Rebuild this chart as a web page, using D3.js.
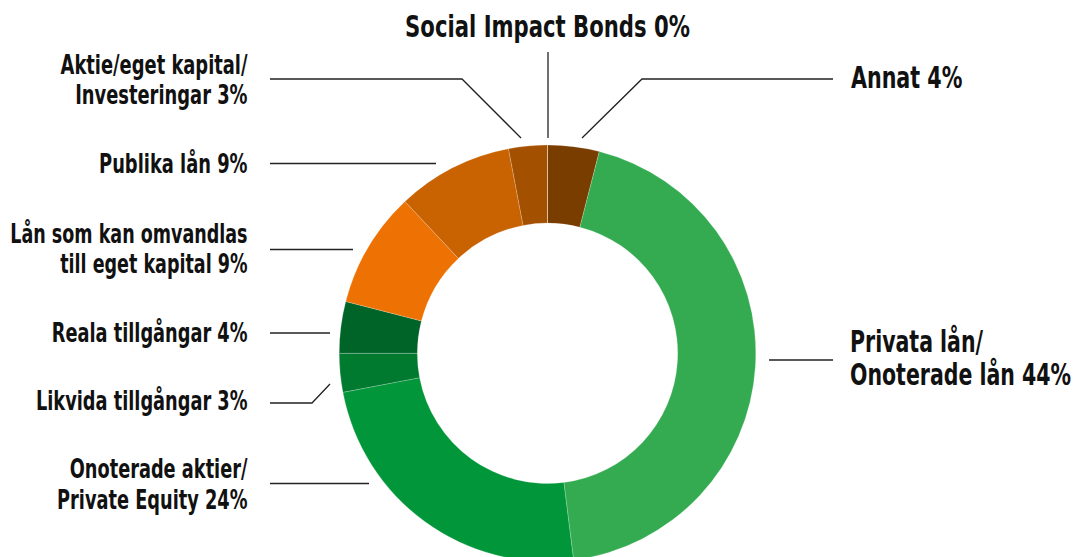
<!DOCTYPE html>
<html lang="en">
<head>
<meta charset="UTF-8">
<title>Fördelning</title>
<script src="https://d3js.org/d3.v7.min.js"></script>
<style>
    body { margin: 0; background: #fff; }
    .lbl { font-family: "Liberation Sans Narrow", "DejaVu Sans Condensed", sans-serif; font-weight: bold; fill: #111; }
    .leader { fill: none; stroke: #222; stroke-width: 1.3px; }
</style>
</head>
<body>
<svg width="1075" height="557"></svg>
<script>
    // data, clockwise from 12 o'clock
    const categories = ["Annat", "Privata lån/Onoterade lån", "Onoterade aktier/Private Equity",
        "Likvida tillgångar", "Reala tillgångar", "Lån som kan omvandlas till eget kapital",
        "Publika lån", "Aktie/eget kapital/Investeringar", "Social Impact Bonds"];
    const values = [4, 44, 24, 3, 4, 9, 9, 3, 0];
    const colors = ["#7a3d00", "#34ab50", "#009639", "#007a2f", "#006428",
        "#ee7203", "#c96200", "#a35100", "#a35100"];
    const labelLines = [
        ["Annat 4%"],
        ["Privata lån/", "Onoterade lån 44%"],
        ["Onoterade aktier/", "Private Equity 24%"],
        ["Likvida tillgångar 3%"],
        ["Reala tillgångar 4%"],
        ["Lån som kan omvandlas", "till eget kapital 9%"],
        ["Publika lån 9%"],
        ["Aktie/eget kapital/", "Investeringar 3%"],
        ["Social Impact Bonds 0%"]
    ];

    // label layout (position of text + leader polyline)
    const layout = [
        {x: 851, y: 88, anchor: "start", size: 30, sq: 0.765, lead: [[582, 138], [642, 79], [833, 79]]},
        {x: 850, y: 352, anchor: "start", size: 30, sq: 0.76, lh: 33, lead: [[769, 360], [833, 360]]},
        {x: 247.5, y: 478, anchor: "end", size: 26.5, sq: 0.745, lh: 31.5, lead: [[270, 483.5], [369, 483.5]]},
        {x: 247.5, y: 409.5, anchor: "end", size: 26.5, sq: 0.745, lead: [[270, 403], [312, 403], [330, 384]]},
        {x: 247.5, y: 342, anchor: "end", size: 26.5, sq: 0.745, lead: [[270, 333], [330, 333]]},
        {x: 247.5, y: 242.5, anchor: "end", size: 26.5, sq: 0.735, lh: 31, lead: [[270, 249.5], [353, 249.5]]},
        {x: 247.5, y: 172.5, anchor: "end", size: 26.5, sq: 0.75, lead: [[270, 163.5], [436, 163.5]]},
        {x: 247.5, y: 73.5, anchor: "end", size: 26.5, sq: 0.75, lh: 30.5, lead: [[270, 79], [462, 79], [521, 138]]},
        {x: 547.5, y: 37, anchor: "middle", size: 30, sq: 0.785, lead: [[548, 52], [548, 138]]}
    ];

    const svg = d3.select("svg");
    const cx = 547.5, cy = 353.3, R = 208.3, r = 130.2;

    const pie = d3.pie().sort(null).value(d => d)(values);
    const arc = d3.arc().innerRadius(r).outerRadius(R);

    svg.append("g")
        .attr("transform", `translate(${cx},${cy})`)
        .selectAll("path")
        .data(pie)
        .join("path")
        .attr("d", arc)
        .attr("fill", (d, i) => colors[i])
        .attr("stroke", "rgba(255,255,255,0.35)")
        .attr("stroke-width", 0.6);

    const line = d3.line();
    svg.append("g").selectAll("path")
        .data(layout)
        .join("path")
        .attr("class", "leader")
        .attr("d", d => line(d.lead));

    const txt = svg.append("g").selectAll("text")
        .data(labelLines)
        .join("text")
        .attr("class", "lbl")
        .attr("font-size", (d, i) => layout[i].size)
        .attr("text-anchor", (d, i) => layout[i].anchor)
        .attr("transform", (d, i) => `translate(${layout[i].x},${layout[i].y}) scale(${layout[i].sq},1)`);

    txt.each(function (lines, i) {
        const L = layout[i];
        d3.select(this).selectAll("tspan")
            .data(lines)
            .join("tspan")
            .attr("x", 0)
            .attr("y", (s, j) => j * (L.lh || 0))
            .text(s => s);
    });
</script>
</body>
</html>
